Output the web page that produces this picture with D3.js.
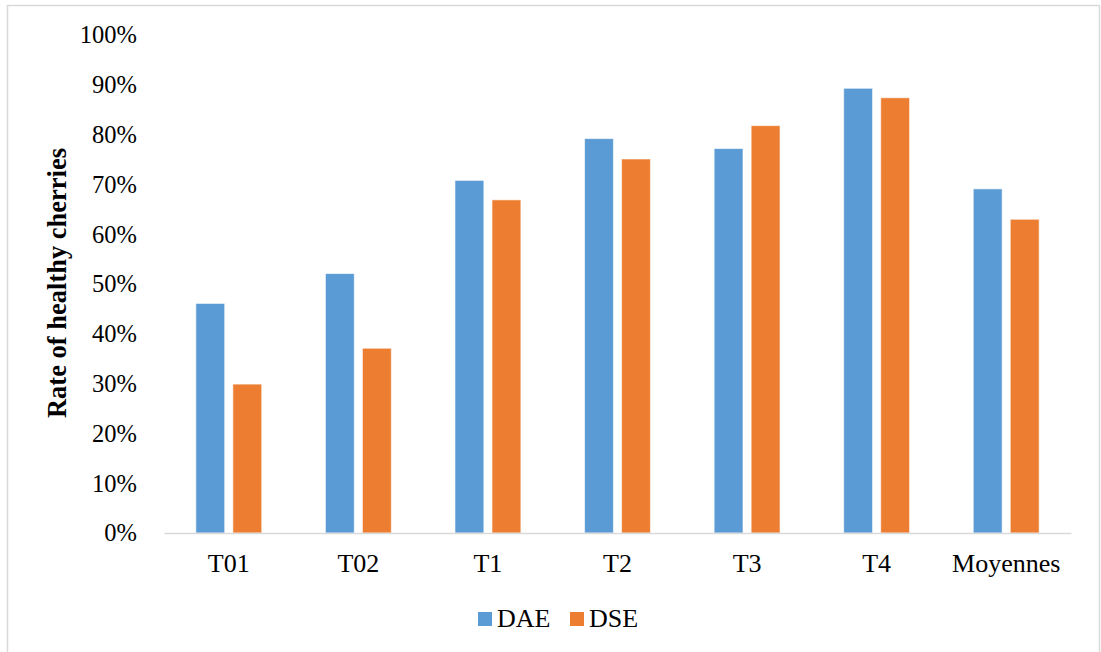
<!DOCTYPE html>
<html>
<head>
<meta charset="utf-8">
<script src="https://cdn.jsdelivr.net/npm/d3@7"></script>
<style>
  body { margin: 0; background: #fff; }
</style>
</head>
<body>
<svg id="chart" width="1101" height="652"></svg>
<script>
const categories = [ "T01", "T02", "T1", "T2", "T3", "T4", "Moyennes" ];
const seriesNames = [ "DAE", "DSE" ];
const dae = [ 0.461, 0.521, 0.708, 0.792, 0.772, 0.893, 0.691 ];
const dse = [ 0.299, 0.371, 0.669, 0.751, 0.818, 0.874, 0.630 ];
const yTicks = [ 0, 0.1, 0.2, 0.3, 0.4, 0.5, 0.6, 0.7, 0.8, 0.9, 1 ];
const colors = [ "#5b9bd5", "#ed7d31" ];

const FONT = "Liberation Serif";
const rows = categories.map( ( c, i ) => ( { cat: c, values: [ dae[i], dse[i] ] } ) );

const svg = d3.select( "#chart" );
const WIDTH = 1101;
const HEIGHT = 652;
const MARGINS = {
  top   : 35,
  right : 30,
  bottom: 119,
  left  : 164,
};

// outer frame
svg.append( "rect" )
  .attr( "x", 7.5 )
  .attr( "y", 5.5 )
  .attr( "width", 1092 )
  .attr( "height", 660 )
  .attr( "fill", "none" )
  .attr( "stroke", "#d9d9d9" )
  .attr( "stroke-width", 1.5 );

const x0 = d3.scaleBand()
  .domain( categories )
  .range( [ MARGINS.left, WIDTH - MARGINS.right ] )
  .padding( 0 );

const x1 = d3.scaleBand()
  .domain( seriesNames )
  .range( [ 0, x0.bandwidth() ] )
  .paddingInner( 0.22 )
  .paddingOuter( 0.86 );

const y = d3.scaleLinear()
  .domain( [ 0, 1 ] )
  .range( [ HEIGHT - MARGINS.bottom, MARGINS.top ] );

// y axis labels (no line, no ticks)
const yAxis = d3.axisLeft( y )
  .tickValues( yTicks )
  .tickFormat( d3.format( ".0%" ) )
  .tickSize( 0 )
  .tickPadding( 0 );

const gy = svg.append( "g" )
  .attr( "transform", "translate(137,0)" )
  .call( yAxis );
gy.select( ".domain" ).remove();
gy.selectAll( "text" )
  .style( "font-family", FONT )
  .style( "font-size", "24.5px" )
  .attr( "fill", "#000" );

// bars
const groups = svg.selectAll( ".grp" )
  .data( rows )
  .enter()
  .append( "g" )
  .attr( "class", "grp" )
  .attr( "transform", d => `translate(${x0( d.cat )},0)` );

groups.selectAll( "rect" )
  .data( d => d.values.map( ( v, i ) => ( { key: seriesNames[i], v, i } ) ) )
  .enter()
  .append( "rect" )
  .attr( "x", d => x1( d.key ) )
  .attr( "y", d => y( d.v ) )
  .attr( "width", x1.bandwidth() )
  .attr( "height", d => y( 0 ) - y( d.v ) )
  .attr( "fill", d => colors[d.i] )
  .attr( "stroke", "#fff" )
  .attr( "stroke-opacity", 0.6 )
  .attr( "stroke-width", 1 );

// x axis
const xAxis = d3.axisBottom( x0 ).tickSize( 0 ).tickPadding( 21 );
const gx = svg.append( "g" )
  .attr( "transform", `translate(0,${HEIGHT - MARGINS.bottom})` )
  .call( xAxis );
gx.select( ".domain" )
  .attr( "stroke", "#d9d9d9" )
  .attr( "stroke-width", 1.5 );
gx.selectAll( "text" )
  .style( "font-family", FONT )
  .style( "font-size", "26px" )
  .attr( "fill", "#000" );

// y title
svg.append( "text" )
  .attr( "transform", "translate(66,283) rotate(-90)" )
  .attr( "text-anchor", "middle" )
  .style( "font-family", FONT )
  .style( "font-size", "26.5px" )
  .style( "font-weight", "bold" )
  .text( "Rate of healthy cherries" );

// legend
const legendX = [ 478, 570 ];
const legend = svg.selectAll( ".leg" )
  .data( seriesNames )
  .enter()
  .append( "g" )
  .attr( "class", "leg" )
  .attr( "transform", ( d, i ) => `translate(${legendX[i]},612)` );

legend.append( "rect" )
  .attr( "width", 14 )
  .attr( "height", 14 )
  .attr( "fill", ( d, i ) => colors[i] );

legend.append( "text" )
  .attr( "x", 19 )
  .attr( "y", 15 )
  .style( "font-family", FONT )
  .style( "font-size", "26px" )
  .text( d => d );
</script>
</body>
</html>
